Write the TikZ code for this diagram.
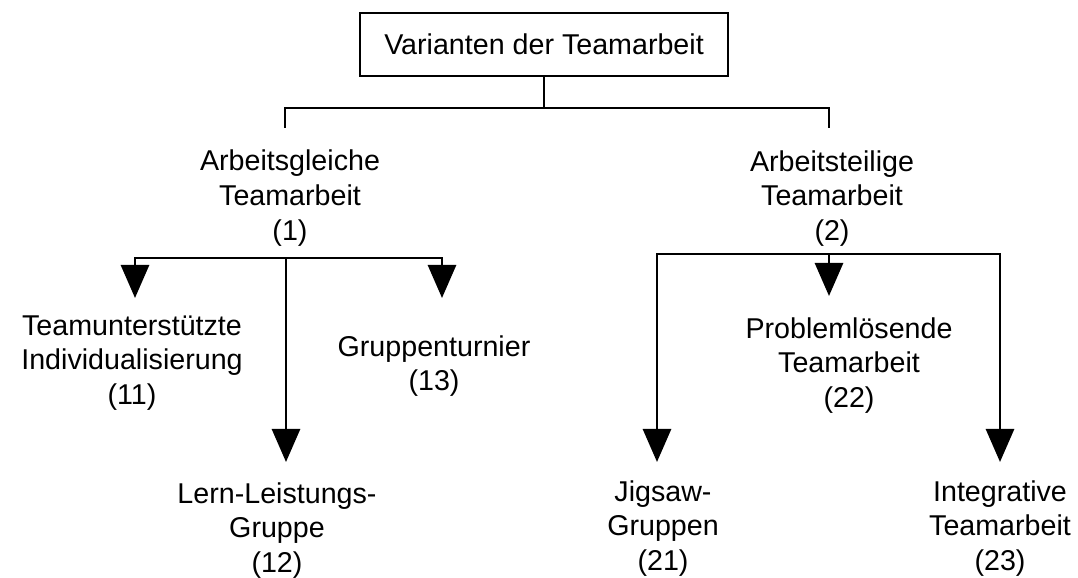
\documentclass[tikz,border=0pt]{standalone}
\usepackage{fontspec}
\setmainfont{Liberation Sans}
\usetikzlibrary{arrows.meta}
\newcommand\teamFont{\fontsize{16.3}{19.8}\selectfont}
\begin{document}
\begin{tikzpicture}[
    teamBox/.style={rectangle,draw=black,line width=1.6pt,minimum width=7.36cm,minimum height=1.26cm,inner sep=0pt,font=\teamFont},
    teamText/.style={align=center,anchor=north,inner sep=0pt,font=\teamFont},
    teamLine/.style={line width=1.6pt},
    teamArrow/.style={line width=1.6pt,-{Triangle[width=0.56cm,length=0.66cm]}},
]
\useasboundingbox (0,0) rectangle (21.56,-11.56);
% === Wurzel (top) ===
\node[teamBox] (root) at (10.88,-0.89) {Varianten der Teamarbeit};
\coordinate (rootBar) at (10.88,-2.16);
\coordinate (tickL) at (5.70,-2.56);
\coordinate (tickR) at (16.58,-2.56);
\node[teamText] (A1) at (5.80,-2.99) {Arbeitsgleiche\\Teamarbeit\\(1)};
\node[teamText] (A2) at (16.64,-3.00) {Arbeitsteilige\\Teamarbeit\\(2)};
\draw[teamLine] (root.south) -- (rootBar);
\draw[teamLine] (rootBar) -| (tickL);
\draw[teamLine] (rootBar) -| (tickR);
% === Arbeitsgleiche Teamarbeit (left) ===
\coordinate (barA1) at (5.72,-5.16);
\coordinate (tip11) at (2.70,-5.96);
\coordinate (tip12) at (5.72,-9.24);
\coordinate (tip13) at (8.84,-5.96);
\node[teamText] (T11) at (2.64,-6.30) {Teamunterstützte\\Individualisierung\\(11)};
\node[teamText] (T12) at (5.54,-9.64) {Lern-Leistungs-\\Gruppe\\(12)};
\node[teamText] (T13) at (8.68,-6.70) {Gruppenturnier\\(13)};
\draw[teamArrow] (barA1) -| (tip11);
\draw[teamArrow] (barA1) -- (tip12);
\draw[teamArrow] (barA1) -| (tip13);
% === Arbeitsteilige Teamarbeit (right) ===
\coordinate (barA2) at (16.58,-5.08);
\coordinate (tip21) at (13.14,-9.24);
\coordinate (tip22) at (16.58,-5.92);
\coordinate (tip23) at (20.00,-9.24);
\node[teamText] (T21) at (13.26,-9.60) {Jigsaw-\\Gruppen\\(21)};
\node[teamText] (T22) at (16.98,-6.34) {Problemlösende\\Teamarbeit\\(22)};
\node[teamText] (T23) at (20.00,-9.60) {Integrative\\Teamarbeit\\(23)};
\draw[teamArrow] (barA2) -| (tip21);
\draw[teamArrow] (barA2) -- (tip22);
\draw[teamArrow] (barA2) -| (tip23);
\end{tikzpicture}
\end{document}
